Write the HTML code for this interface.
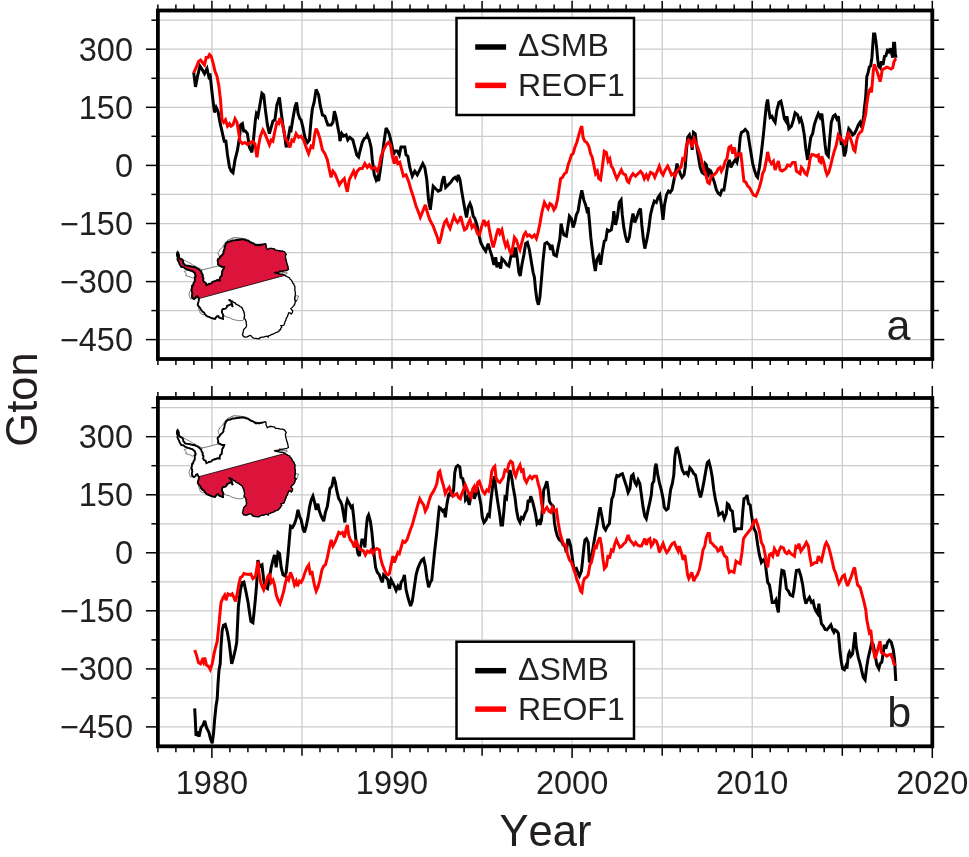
<!DOCTYPE html>
<html lang="en"><head><meta charset="utf-8"><title>SMB REOF</title>
<style>html,body{margin:0;padding:0;background:#fff}svg{display:block}text{font-kerning:none;font-family:"Liberation Sans",Arial,Helvetica,sans-serif;fill:#231f20}</style></head><body>
<svg width="969" height="857" viewBox="0 0 969 857">
<rect width="969" height="857" fill="#fff"/>
<g stroke="#cbcbcb" stroke-width="1.25"><line x1="211.9" y1="10.5" x2="211.9" y2="359.0"/><line x1="302.0" y1="10.5" x2="302.0" y2="359.0"/><line x1="392.0" y1="10.5" x2="392.0" y2="359.0"/><line x1="482.1" y1="10.5" x2="482.1" y2="359.0"/><line x1="572.1" y1="10.5" x2="572.1" y2="359.0"/><line x1="662.2" y1="10.5" x2="662.2" y2="359.0"/><line x1="752.2" y1="10.5" x2="752.2" y2="359.0"/><line x1="842.3" y1="10.5" x2="842.3" y2="359.0"/><line x1="157.9" y1="339.6" x2="932.3" y2="339.6"/><line x1="157.9" y1="310.6" x2="932.3" y2="310.6"/><line x1="157.9" y1="281.6" x2="932.3" y2="281.6"/><line x1="157.9" y1="252.5" x2="932.3" y2="252.5"/><line x1="157.9" y1="223.5" x2="932.3" y2="223.5"/><line x1="157.9" y1="194.4" x2="932.3" y2="194.4"/><line x1="157.9" y1="165.4" x2="932.3" y2="165.4"/><line x1="157.9" y1="136.3" x2="932.3" y2="136.3"/><line x1="157.9" y1="107.3" x2="932.3" y2="107.3"/><line x1="157.9" y1="78.3" x2="932.3" y2="78.3"/><line x1="157.9" y1="49.2" x2="932.3" y2="49.2"/><line x1="157.9" y1="20.2" x2="932.3" y2="20.2"/></g>
<polygon fill="#fff" stroke="#555" stroke-width="0.8" points="202.3,269.8 204.0,269.4 206.1,269.0 208.0,268.5 209.8,268.1 211.7,267.6 213.3,267.1 215.2,266.7 217.2,266.1 219.0,266.0 220.5,266.1 222.3,266.6 224.2,266.9 223.0,269.8 222.3,271.7 221.8,273.9 220.9,276.4 220.2,278.4 219.7,280.5 217.2,280.1 215.6,280.9 213.9,281.4 212.5,282.6 211.4,283.4 208.9,283.9 206.4,285.1 205.6,282.6 204.4,281.7 203.1,280.5 203.5,278.1 203.3,276.3 202.7,274.8 201.9,272.9 201.1,271.4"/>
<polygon fill="#fff" stroke="#555" stroke-width="0.8" points="180.8,258.2 182.2,258.9 183.9,260.0 185.1,260.7 186.6,261.5 188.5,262.4 190.7,263.6 192.1,264.5 193.5,265.4 194.9,265.9 196.5,266.9 197.8,267.7 199.3,268.3 200.8,269.1 202.3,269.8 201.1,271.4 199.0,269.4 197.3,268.4 195.7,267.7 193.6,267.0 191.5,266.5 189.7,266.3 188.2,265.8 186.6,265.6 184.9,265.2 183.3,263.2 183.0,261.5 182.4,259.8"/>
<polygon fill="#fff" stroke="#555" stroke-width="0.8" points="184.1,271.4 185.2,272.7 186.6,273.9 185.7,275.6 187.3,276.1 189.0,276.4 190.7,277.2 192.4,278.1 194.8,276.4 194.9,274.8 194.8,273.1 193.4,272.1 192.4,271.0 190.3,270.4 188.2,269.8 186.3,270.7"/>
<polygon fill="#fff" stroke="#555" stroke-width="0.8" points="191.9,288.0 191.1,289.6 189.9,291.3 189.5,293.1 189.0,294.6 189.6,296.5 190.3,298.8 192.8,298.8 192.7,296.7 192.5,295.1 192.4,293.0 192.4,291.2 191.9,289.5"/>
<polygon fill="#fff" stroke="#555" stroke-width="0.8" points="218.0,252.8 219.0,251.5 219.7,249.9 221.4,248.1 223.0,246.6 223.8,245.0 224.7,243.3 226.4,241.4 228.0,240.0 229.5,239.4 231.1,238.7 232.9,237.9 234.8,238.0 236.9,237.9 238.7,237.9 240.6,238.1 242.7,238.5 244.5,238.7 244.5,239.6 242.8,239.6 241.2,239.7 239.4,239.9 237.9,240.0 236.1,240.1 234.7,240.4 232.9,240.4 231.2,240.8 229.8,241.2 228.0,241.6 226.9,243.2 225.5,244.9 225.2,246.4 224.7,248.4 224.2,249.9 223.6,252.0 223.0,254.0 221.5,255.9 219.7,257.4 219.0,255.9 218.4,254.3"/>
<polygon fill="#fff" stroke="#555" stroke-width="0.8" points="230.0,240.0 231.5,239.1 232.9,238.5 234.1,237.5 236.0,238.0 237.9,238.2 239.9,238.7 241.5,238.9 243.1,239.0 244.8,238.9 246.6,239.1 247.9,239.9 249.3,240.9 250.7,241.6 252.9,242.6 254.8,243.7 257.1,244.2 259.0,244.5 261.2,244.2 263.1,243.7 265.6,243.7 263.1,244.5 261.1,244.8 259.0,245.4 257.1,245.1 254.8,244.5 252.8,243.3 250.7,242.5 248.8,241.5 246.6,240.4 245.1,240.6 243.4,240.5 241.6,240.4 239.9,240.4 238.3,240.8 236.7,241.1 235.0,241.2 233.3,241.1 231.8,241.1 230.0,240.8"/>
<polygon fill="#fff" stroke="#555" stroke-width="0.8" points="223.4,315.6 225.0,316.3 226.3,316.9 228.0,317.3 229.8,317.8 231.4,318.8 232.9,319.3 234.5,319.9 236.2,320.1 237.9,320.6 239.6,320.7 241.3,320.5 242.9,320.6 244.1,318.5 244.1,318.1 244.3,316.3 244.5,314.8 244.0,312.9 243.7,311.1 242.3,309.1 241.2,307.3 240.0,306.2 238.4,305.2 237.1,304.4 235.8,303.4 234.2,302.9 232.9,301.9 231.1,300.9 229.2,299.9 230.5,301.5 231.7,303.2 232.3,304.9 232.9,306.9 231.7,304.0 229.6,304.8 227.1,305.7 226.2,307.0 225.5,308.6 223.0,309.0 221.8,311.9 222.5,313.7"/>
<polygon fill="#fff" stroke="#555" stroke-width="0.8" points="276.4,272.3 278.1,272.3 280.2,272.4 281.8,272.3 283.4,272.6 285.5,272.3 287.1,272.4 286.7,273.9 284.9,274.2 283.0,274.3 281.5,274.0 279.6,273.7 278.0,273.5 276.0,273.3 273.9,272.7"/>
<polygon fill="#fff" stroke="#555" stroke-width="0.8" points="295.8,295.7 298.7,296.1 297.5,299.0 296.3,301.5 295.0,298.6"/>
<polygon fill="#fff" stroke="#555" stroke-width="0.8" points="198.6,308.2 199.0,309.8 199.7,311.3 200.2,313.1 201.7,314.1 203.1,314.8 204.8,314.0 203.4,312.3 201.9,310.6 200.8,309.0 199.4,307.3"/>
<polygon fill="#fff" stroke="none" points="177.7,252.0 178.5,253.6 178.9,254.7 178.9,256.5 179.2,257.6 180.4,259.0 182.4,259.8 183.1,261.3 183.3,263.2 184.5,264.3 184.9,265.2 186.6,265.6 188.2,265.8 190.0,266.2 191.5,266.5 193.3,267.1 194.3,266.8 195.7,267.7 197.0,268.1 199.0,269.4 200.4,270.9 201.1,271.4 201.7,273.4 202.7,274.8 202.6,276.8 203.5,278.1 203.1,280.5 203.9,281.9 205.6,282.6 206.2,284.3 206.4,285.1 208.0,284.4 208.9,283.9 211.4,283.4 212.2,282.1 213.9,281.4 215.9,280.9 217.2,280.1 219.7,280.5 219.6,279.5 220.1,277.2 220.9,276.4 221.8,275.6 221.8,273.9 222.0,272.9 222.3,270.8 223.0,269.8 223.9,268.1 224.2,266.9 221.9,266.9 220.5,266.1 219.3,265.5 218.0,264.4 218.2,262.7 217.6,260.7 217.9,259.2 219.4,258.5 219.7,257.4 220.5,256.5 222.3,254.8 223.0,254.0 223.5,253.2 223.4,251.6 224.2,249.9 224.6,248.5 224.6,246.6 225.5,244.9 226.0,243.4 227.5,242.2 228.0,241.6 229.2,241.6 230.9,241.3 232.9,240.4 234.5,240.4 236.4,239.9 237.9,240.0 239.1,239.7 240.2,239.7 242.1,239.2 242.7,239.4 244.5,239.6 246.6,240.4 248.4,240.7 249.6,241.8 250.7,242.5 252.6,243.2 253.4,243.4 254.8,244.5 256.1,245.3 258.1,244.8 259.0,245.4 260.7,244.8 261.8,244.7 263.1,244.5 264.1,244.0 265.6,243.7 266.1,245.3 266.0,246.6 266.5,247.6 267.3,249.5 268.0,249.3 269.8,248.3 271.4,248.4 273.1,248.7 274.4,248.8 275.5,250.3 277.2,250.3 278.5,250.6 280.4,251.0 281.3,251.1 282.7,251.1 284.7,252.0 285.1,252.8 286.3,254.5 285.5,255.5 285.5,257.4 285.7,259.0 286.3,260.7 286.6,262.2 287.1,264.0 287.6,265.3 288.0,267.3 288.4,269.4 286.3,270.6 285.2,270.6 283.1,271.0 281.3,271.4 279.7,271.2 278.6,272.4 276.4,272.3 273.9,272.7 274.8,272.7 277.1,273.5 278.0,273.5 279.8,274.1 280.9,274.3 283.0,274.3 284.8,275.4 288.0,277.2 289.6,277.9 289.9,278.9 291.3,280.1 291.9,281.1 292.7,282.9 293.8,283.9 294.1,285.3 294.8,286.3 295.0,288.0 294.7,290.0 295.1,290.9 295.4,293.0 295.2,295.0 295.3,295.8 294.6,297.9 294.7,299.4 295.4,301.3 295.8,301.1 295.0,302.5 295.0,303.6 294.1,305.3 293.4,306.1 292.2,307.4 290.9,308.6 291.7,309.8 292.6,310.8 292.5,312.3 291.3,314.0 290.4,313.2 288.8,312.7 288.0,314.8 287.3,317.0 286.3,318.1 286.0,319.9 285.1,321.4 285.0,322.1 284.2,324.3 283.8,325.1 282.7,325.3 280.9,325.5 281.8,327.2 280.8,328.3 280.5,329.7 279.3,330.1 278.8,331.5 277.2,332.2 275.9,332.5 274.2,333.5 273.1,334.2 271.3,334.5 270.2,335.3 268.9,335.5 268.1,337.1 267.3,336.2 265.6,336.3 263.6,337.1 262.3,337.1 260.1,337.7 259.0,338.8 257.4,338.6 255.7,338.4 253.7,338.2 252.4,337.6 251.4,336.0 249.9,335.5 248.5,336.2 246.6,337.1 245.1,337.0 243.7,336.7 242.4,334.7 243.0,333.3 243.3,331.3 243.6,329.9 244.3,328.8 245.3,328.0 246.3,326.8 246.6,324.7 246.1,323.5 246.3,322.4 245.7,320.6 245.2,319.4 244.1,318.1 244.6,316.2 244.5,314.8 244.2,312.7 243.7,311.1 242.9,309.7 242.3,308.0 241.6,307.3 240.1,306.5 239.3,305.9 237.5,304.8 235.7,303.9 235.0,302.7 233.3,302.4 232.6,301.0 231.3,300.8 230.0,299.9 229.2,299.9 230.1,300.6 231.4,302.2 231.7,303.2 232.2,304.9 232.1,306.0 232.9,306.9 232.0,305.2 231.7,304.0 229.6,304.8 228.2,305.5 227.1,305.7 226.8,307.3 225.5,308.6 223.0,309.0 222.2,310.0 221.8,311.9 222.1,312.8 222.9,314.4 223.4,315.6 222.8,316.9 223.0,318.9 222.2,318.7 220.5,318.1 219.0,317.5 218.4,316.0 216.8,316.4 215.9,317.6 215.1,318.9 213.1,318.5 212.2,318.3 210.6,317.7 208.9,316.9 207.3,316.4 206.1,315.6 204.8,314.0 204.0,312.4 202.3,311.6 201.9,310.6 200.8,309.8 200.3,308.0 199.4,307.3 198.5,306.2 197.7,304.8 198.1,302.9 198.6,301.5 198.9,299.8 198.8,298.6 197.3,296.1 196.0,296.7 195.6,297.9 194.0,299.0 192.4,297.8 192.0,296.7 191.9,295.0 192.4,293.3 191.9,291.5 191.6,290.2 191.5,289.1 192.0,288.1 192.0,286.0 192.4,285.0 192.4,286.3 193.1,285.1 193.6,283.0 194.7,281.7 194.8,279.7 194.8,277.7 195.7,276.4 195.5,275.2 194.8,273.1 193.5,272.1 192.4,271.0 190.4,270.7 190.1,270.3 188.2,269.8 186.8,269.2 185.3,268.7 184.5,268.1 183.3,267.1 181.2,266.9 180.6,265.8 179.5,264.0 179.0,262.2 178.0,260.7 177.4,259.0 177.9,257.8 177.3,256.5 176.9,255.0 177.1,252.8"/>
<polygon fill="#dc143c" stroke="#000" stroke-width="0.8" stroke-linejoin="round" points="177.7,252.0 178.5,253.6 178.9,254.7 178.9,256.5 179.2,257.6 180.4,259.0 182.4,259.8 183.1,261.3 183.3,263.2 184.5,264.3 184.9,265.2 186.6,265.6 188.2,265.8 190.0,266.2 191.5,266.5 193.3,267.1 194.3,266.8 195.7,267.7 197.0,268.1 199.0,269.4 200.4,270.9 201.1,271.4 201.7,273.4 202.7,274.8 202.6,276.8 203.5,278.1 203.1,280.5 203.9,281.9 205.6,282.6 206.2,284.3 206.4,285.1 208.0,284.4 208.9,283.9 211.4,283.4 212.2,282.1 213.9,281.4 215.9,280.9 217.2,280.1 219.7,280.5 219.6,279.5 220.1,277.2 220.9,276.4 221.8,275.6 221.8,273.9 222.0,272.9 222.3,270.8 223.0,269.8 223.9,268.1 224.2,266.9 221.9,266.9 220.5,266.1 219.3,265.5 218.0,264.4 218.2,262.7 217.6,260.7 217.9,259.2 219.4,258.5 219.7,257.4 220.5,256.5 222.3,254.8 223.0,254.0 223.5,253.2 223.4,251.6 224.2,249.9 224.6,248.5 224.6,246.6 225.5,244.9 226.0,243.4 227.5,242.2 228.0,241.6 229.2,241.6 230.9,241.3 232.9,240.4 234.5,240.4 236.4,239.9 237.9,240.0 239.1,239.7 240.2,239.7 242.1,239.2 242.7,239.4 244.5,239.6 246.6,240.4 248.4,240.7 249.6,241.8 250.7,242.5 252.6,243.2 253.4,243.4 254.8,244.5 256.1,245.3 258.1,244.8 259.0,245.4 260.7,244.8 261.8,244.7 263.1,244.5 264.1,244.0 265.6,243.7 266.1,245.3 266.0,246.6 266.5,247.6 267.3,249.5 268.0,249.3 269.8,248.3 271.4,248.4 273.1,248.7 274.4,248.8 275.5,250.3 277.2,250.3 278.5,250.6 280.4,251.0 281.3,251.1 282.7,251.1 284.7,252.0 285.1,252.8 286.3,254.5 285.5,255.5 285.5,257.4 285.7,259.0 286.3,260.7 286.6,262.2 287.1,264.0 287.6,265.3 288.0,267.3 288.4,269.4 286.3,270.6 285.2,270.6 283.1,271.0 281.3,271.4 279.7,271.2 278.6,272.4 276.4,272.3 273.9,272.7 274.8,272.7 277.1,273.5 278.0,273.5 279.8,274.1 280.9,274.3 283.0,274.3 284.8,275.4 198.8,298.6 197.3,296.1 196.0,296.7 195.6,297.9 194.0,299.0 192.4,297.8 192.0,296.7 191.9,295.0 192.4,293.3 191.9,291.5 191.6,290.2 191.5,289.1 192.0,288.1 192.0,286.0 192.4,285.0 192.4,286.3 193.1,285.1 193.6,283.0 194.7,281.7 194.8,279.7 194.8,277.7 195.7,276.4 195.5,275.2 194.8,273.1 193.5,272.1 192.4,271.0 190.4,270.7 190.1,270.3 188.2,269.8 186.8,269.2 185.3,268.7 184.5,268.1 183.3,267.1 181.2,266.9 180.6,265.8 179.5,264.0 179.0,262.2 178.0,260.7 177.4,259.0 177.9,257.8 177.3,256.5 176.9,255.0 177.1,252.8"/>
<polyline fill="none" stroke="#000" stroke-width="1.9" stroke-linejoin="miter" stroke-linecap="round" points="229.2,299.9 230.1,300.6 231.4,302.2 231.7,303.2 232.2,304.9 232.1,306.0 232.9,306.9 232.0,305.2 231.7,304.0 229.6,304.8 228.2,305.5 227.1,305.7 226.8,307.3 225.5,308.6 223.0,309.0 222.2,310.0 221.8,311.9 222.1,312.8 222.9,314.4 223.4,315.6 222.8,316.9 223.0,318.9 222.2,318.7 220.5,318.1 219.0,317.5 218.4,316.0 216.8,316.4 215.9,317.6 215.1,318.9 213.1,318.5 212.2,318.3 210.6,317.7 208.9,316.9 207.3,316.4 206.1,315.6 204.8,314.0 204.0,312.4 202.3,311.6 201.9,310.6 200.8,309.8 200.3,308.0 199.4,307.3 198.5,306.2 197.7,304.8 198.1,302.9 198.6,301.5 198.9,299.8 198.8,298.6 197.3,296.1 196.0,296.7 195.6,297.9 194.0,299.0 192.4,297.8 192.0,296.7 191.9,295.0 192.4,293.3 191.9,291.5 191.6,290.2 191.5,289.1 192.0,288.1 192.0,286.0 192.4,285.0 192.4,286.3 193.1,285.1 193.6,283.0 194.7,281.7 194.8,279.7 194.8,277.7 195.7,276.4 195.5,275.2 194.8,273.1 193.5,272.1 192.4,271.0 190.4,270.7 190.1,270.3 188.2,269.8 186.8,269.2 185.3,268.7 184.5,268.1 183.3,267.1 181.2,266.9 180.6,265.8 179.5,264.0 179.0,262.2 178.0,260.7 177.4,259.0 177.9,257.8 177.3,256.5 176.9,255.0 177.1,252.8 177.7,252.0 178.5,253.6 178.9,254.7 178.9,256.5 179.2,257.6 180.4,259.0 182.4,259.8 183.1,261.3 183.3,263.2 184.5,264.3 184.9,265.2 186.6,265.6 188.2,265.8 190.0,266.2 191.5,266.5 193.3,267.1 194.3,266.8 195.7,267.7 197.0,268.1 199.0,269.4 200.4,270.9 201.1,271.4 201.7,273.4 202.7,274.8 202.6,276.8 203.5,278.1 203.1,280.5 203.9,281.9 205.6,282.6 206.2,284.3 206.4,285.1 208.0,284.4 208.9,283.9 211.4,283.4 212.2,282.1 213.9,281.4 215.9,280.9 217.2,280.1 219.7,280.5 219.6,279.5 220.1,277.2 220.9,276.4 221.8,275.6 221.8,273.9 222.0,272.9 222.3,270.8 223.0,269.8 223.9,268.1 224.2,266.9 221.9,266.9 220.5,266.1 219.3,265.5 218.0,264.4 218.2,262.7 217.6,260.7 217.9,259.2 219.4,258.5 219.7,257.4 220.5,256.5 222.3,254.8 223.0,254.0 223.5,253.2 223.4,251.6 224.2,249.9 224.6,248.5 224.6,246.6 225.5,244.9 226.0,243.4 227.5,242.2 228.0,241.6 229.2,241.6 230.9,241.3 232.9,240.4 234.5,240.4 236.4,239.9 237.9,240.0 239.1,239.7 240.2,239.7 242.1,239.2 242.7,239.4 244.5,239.6 246.6,240.4 248.4,240.7 249.6,241.8 250.7,242.5 252.6,243.2 253.4,243.4 254.8,244.5 256.1,245.3 258.1,244.8 259.0,245.4 260.7,244.8 261.8,244.7"/>
<polyline fill="none" stroke="#000" stroke-width="1.3" stroke-linejoin="miter" stroke-linecap="round" points="261.8,244.7 263.1,244.5 264.1,244.0 265.6,243.7 266.1,245.3 266.0,246.6 266.5,247.6 267.3,249.5 268.0,249.3 269.8,248.3 271.4,248.4 273.1,248.7 274.4,248.8 275.5,250.3 277.2,250.3 278.5,250.6 280.4,251.0 281.3,251.1 282.7,251.1 284.7,252.0 285.1,252.8 286.3,254.5 285.5,255.5 285.5,257.4 285.7,259.0 286.3,260.7 286.6,262.2 287.1,264.0 287.6,265.3 288.0,267.3 288.4,269.4 286.3,270.6 285.2,270.6 283.1,271.0 281.3,271.4 279.7,271.2 278.6,272.4 276.4,272.3 273.9,272.7 274.8,272.7 277.1,273.5 278.0,273.5 279.8,274.1 280.9,274.3 283.0,274.3 284.8,275.4 288.0,277.2 289.6,277.9 289.9,278.9 291.3,280.1 291.9,281.1 292.7,282.9 293.8,283.9 294.1,285.3 294.8,286.3 295.0,288.0 294.7,290.0 295.1,290.9 295.4,293.0 295.2,295.0 295.3,295.8 294.6,297.9 294.7,299.4 295.4,301.3 295.8,301.1 295.0,302.5 295.0,303.6 294.1,305.3 293.4,306.1 292.2,307.4 290.9,308.6 291.7,309.8 292.6,310.8 292.5,312.3 291.3,314.0 290.4,313.2 288.8,312.7 288.0,314.8 287.3,317.0 286.3,318.1 286.0,319.9 285.1,321.4 285.0,322.1 284.2,324.3 283.8,325.1 282.7,325.3 280.9,325.5 281.8,327.2 280.8,328.3 280.5,329.7 279.3,330.1 278.8,331.5 277.2,332.2 275.9,332.5 274.2,333.5 273.1,334.2 271.3,334.5 270.2,335.3 268.9,335.5 268.1,337.1 267.3,336.2 265.6,336.3 263.6,337.1 262.3,337.1 260.1,337.7 259.0,338.8 257.4,338.6 255.7,338.4 253.7,338.2 252.4,337.6 251.4,336.0 249.9,335.5 248.5,336.2 246.6,337.1 245.1,337.0 243.7,336.7 242.4,334.7 243.0,333.3 243.3,331.3 243.6,329.9 244.3,328.8 245.3,328.0 246.3,326.8 246.6,324.7 246.1,323.5 246.3,322.4 245.7,320.6 245.2,319.4 244.1,318.1 244.6,316.2 244.5,314.8 244.2,312.7 243.7,311.1 242.9,309.7 242.3,308.0 241.6,307.3 240.1,306.5 239.3,305.9 237.5,304.8 235.7,303.9 235.0,302.7 233.3,302.4 232.6,301.0 231.3,300.8 230.0,299.9"/>
<polyline fill="none" stroke="#000" stroke-width="3.0" stroke-linejoin="miter" stroke-miterlimit="3" points="193.7,72.4 195.5,86.9 197.5,76.2 200.0,66.2 202.5,70.0 204.5,73.7 207.0,68.7 208.7,76.2 210.0,73.7 212.0,92.4 213.7,106.2 214.5,112.4 216.2,107.4 218.0,111.2 220.0,122.4 222.5,133.6 224.5,142.4 225.7,139.9 227.5,154.9 229.5,167.4 231.2,171.1 233.0,172.8 235.0,159.9 237.5,149.9 239.5,137.4 240.7,124.9 242.4,123.6 243.7,131.1 245.4,131.1 247.4,133.6 249.4,147.4 251.9,152.4 253.7,137.4 255.4,119.9 256.4,113.7 257.9,116.2 259.9,104.9 261.9,93.2 263.7,94.9 265.4,109.9 267.4,124.9 269.4,133.6 271.2,127.4 272.9,121.1 274.9,119.9 276.9,104.9 279.4,97.4 281.2,112.4 282.9,124.9 284.9,137.4 286.2,147.4 287.9,139.9 289.9,128.6 291.1,129.9 292.9,118.7 294.9,107.4 296.6,102.4 298.1,113.7 299.9,118.7 301.1,119.9 302.9,127.4 304.9,137.4 307.4,142.4 309.4,139.9 311.1,119.9 312.4,108.7 314.1,102.4 316.1,89.4 318.6,94.9 320.4,106.2 322.4,114.9 324.9,116.2 326.1,119.9 327.9,124.9 331.1,124.9 332.9,122.4 334.4,111.2 336.1,117.4 337.9,127.4 339.4,134.9 339.9,141.1 341.8,133.6 343.6,136.1 346.1,134.9 347.8,139.9 349.8,137.4 352.8,139.9 354.8,147.4 356.8,154.9 358.6,156.9 360.3,149.9 362.3,142.4 364.3,138.6 366.1,137.4 367.3,134.9 369.3,139.9 371.1,147.4 372.3,159.9 374.3,174.8 376.1,179.8 377.3,177.3 378.6,181.1 380.3,169.9 382.3,154.9 384.3,139.9 386.1,128.1 388.6,132.4 389.8,136.1 391.8,144.9 393.5,154.9 394.8,151.1 397.3,151.1 399.3,154.9 401.0,146.9 404.8,146.9 406.0,154.9 407.8,156.1 409.8,167.4 412.3,176.1 414.8,171.1 417.3,174.8 419.8,169.9 422.8,163.6 424.8,167.4 426.8,179.8 428.5,199.8 430.3,209.8 433.2,186.2 435.7,188.7 438.2,191.2 440.7,189.9 442.5,179.9 444.0,176.2 445.7,187.4 448.2,184.9 450.7,182.4 453.2,178.7 455.0,177.4 457.0,179.9 458.2,174.9 460.0,179.9 461.5,189.9 463.2,199.9 465.0,209.9 466.5,217.4 468.2,207.4 470.0,203.6 471.5,207.4 473.2,216.1 474.9,218.6 476.9,224.9 478.9,234.9 480.7,242.4 483.2,247.4 485.7,251.1 488.2,243.6 489.9,249.9 491.9,256.1 493.9,264.8 495.7,257.3 496.9,267.3 498.9,262.3 500.7,268.6 501.9,258.6 504.4,261.1 506.9,264.8 508.9,266.1 510.7,257.3 512.4,251.1 513.9,257.3 515.7,247.4 517.4,259.8 518.9,272.3 520.2,276.1 521.9,264.8 523.9,254.8 525.6,243.6 527.4,242.4 529.4,249.9 531.4,262.3 533.1,272.3 534.4,277.3 535.6,289.8 536.9,299.8 538.4,304.8 539.9,297.3 541.4,279.8 543.1,259.8 544.9,243.6 546.9,242.4 549.4,244.9 550.6,249.9 551.9,244.9 553.9,254.8 556.4,256.1 558.1,247.4 559.9,238.6 561.1,223.6 562.4,229.9 563.9,234.9 566.4,236.1 568.1,224.9 569.4,216.1 571.4,218.6 573.1,227.4 574.8,222.4 576.3,214.9 578.1,211.1 579.8,199.9 581.8,190.4 583.8,199.9 585.6,204.9 586.8,209.9 588.1,207.4 589.3,219.9 590.8,237.4 592.3,249.9 593.8,262.3 595.3,271.1 596.8,259.8 598.8,256.1 600.6,264.8 602.3,252.3 604.3,241.1 605.8,239.9 607.3,229.9 609.3,231.1 611.3,229.9 613.1,219.9 613.8,211.1 615.6,224.9 617.3,217.4 619.3,202.4 621.1,199.9 622.3,214.9 623.8,227.4 625.5,236.1 627.3,242.4 629.3,237.4 631.3,222.4 633.0,213.6 634.8,222.4 636.8,217.4 638.8,211.1 640.5,208.6 641.8,224.9 643.3,238.6 644.8,248.6 646.8,239.9 648.8,228.6 650.5,214.9 652.3,207.4 654.3,201.1 656.3,202.4 658.0,197.4 659.8,194.9 661.3,204.9 663.0,219.9 664.5,204.9 666.5,194.9 668.5,191.1 670.2,192.4 672.0,189.9 674.0,179.9 676.0,169.9 677.0,163.6 678.5,168.6 680.2,173.6 682.0,177.4 684.0,174.9 685.2,167.4 686.5,149.9 687.7,137.4 689.5,134.9 691.0,139.9 692.2,149.9 693.5,132.4 695.2,133.7 696.5,144.9 698.5,157.4 700.2,167.4 702.0,172.4 703.5,173.6 705.2,163.6 706.4,164.9 707.7,177.4 709.4,169.9 710.9,171.1 712.7,177.4 714.4,182.4 716.4,189.9 718.4,193.6 720.2,194.9 721.9,189.9 723.9,189.9 725.9,177.4 727.7,164.9 729.4,159.9 730.9,167.4 732.7,163.6 735.2,159.9 736.9,162.4 738.9,152.4 740.2,137.4 741.4,132.4 743.4,131.2 745.2,129.4 747.7,132.4 748.9,139.9 750.9,152.4 752.7,163.6 754.4,169.9 756.4,176.1 757.6,177.4 759.4,167.4 761.4,152.4 763.4,134.9 765.1,117.4 766.4,105.0 767.6,99.5 768.9,110.0 770.1,117.4 771.9,116.2 773.4,119.9 775.1,122.4 776.9,110.0 778.9,102.5 780.9,101.2 782.6,108.7 784.4,118.7 785.9,121.2 786.9,116.2 788.9,128.7 791.4,126.2 793.4,119.9 795.1,112.9 797.6,114.9 799.4,121.2 800.9,118.7 802.6,124.9 804.3,134.9 805.8,148.7 807.6,159.9 809.3,147.4 810.8,137.4 812.6,133.7 814.3,124.9 816.3,118.7 818.3,113.7 820.1,117.4 821.8,113.7 823.3,127.4 825.1,144.9 826.3,153.7 828.3,156.2 830.1,134.9 831.3,122.4 833.3,116.2 835.1,114.9 836.8,118.7 838.3,116.2 840.1,132.4 841.3,144.9 842.6,142.4 844.3,156.2 845.8,151.2 847.6,134.9 848.8,128.7 850.8,131.2 852.6,134.9 854.3,133.7 856.3,129.9 858.3,124.9 860.0,122.4 861.8,127.4 863.8,114.9 864.2,109.8 865.7,96.8 866.4,85.2 866.8,76.5 867.9,73.6 869.3,67.1 870.7,65.7 871.9,57.7 872.9,43.3 873.6,33.9 874.8,33.9 875.8,40.4 876.8,49.1 877.7,59.2 878.7,66.4 880.1,67.9 881.6,61.3 883.0,65.0 884.5,56.3 885.9,55.6 887.4,50.5 888.8,51.9 890.3,48.3 891.7,53.4 892.7,57.7 893.6,43.3 894.6,43.3 895.3,53.4 896.1,57.7"/>
<polyline fill="none" stroke="#ff0000" stroke-width="3.0" stroke-linejoin="miter" stroke-miterlimit="3" points="193.7,72.9 196.2,67.5 198.7,61.2 200.5,60.0 202.5,62.5 204.5,65.0 206.2,57.5 208.0,57.5 209.5,54.5 211.2,56.2 213.0,62.5 215.0,71.2 217.0,76.2 218.7,84.9 220.5,99.9 222.0,119.9 223.7,122.4 225.5,119.9 227.5,126.1 229.5,123.6 231.2,126.1 233.0,124.9 235.0,118.7 237.0,122.4 238.7,132.4 240.0,141.1 242.4,143.6 244.9,142.4 247.4,144.4 249.9,142.9 252.4,141.1 254.9,143.6 256.9,157.4 258.7,144.9 260.4,136.1 262.9,129.9 264.9,133.6 267.4,139.9 269.4,144.9 271.2,139.9 272.9,141.1 274.9,131.1 276.9,122.4 278.7,123.6 279.9,118.2 281.9,122.4 283.7,129.9 285.4,138.6 287.9,142.4 289.9,147.4 291.9,139.9 293.6,141.1 296.1,133.6 298.6,137.4 301.1,136.1 303.6,139.9 306.1,147.4 308.6,153.6 311.1,146.1 312.9,147.4 314.9,133.6 316.1,128.6 317.9,132.4 319.9,138.6 322.4,149.9 324.9,153.6 327.4,159.9 329.4,169.9 331.1,177.3 332.9,171.1 334.9,173.6 337.4,179.8 339.4,184.8 341.8,181.1 344.3,178.6 346.1,187.3 347.3,191.8 349.3,179.8 351.1,176.1 353.6,171.1 355.3,176.1 357.3,171.1 359.8,168.6 362.3,168.6 364.8,163.6 367.3,167.4 369.3,164.9 371.8,168.6 374.8,167.4 377.3,171.1 379.3,166.1 381.1,156.1 383.6,149.9 386.1,144.9 388.6,142.4 390.5,144.9 392.3,156.1 394.3,163.6 396.0,156.1 397.8,163.6 399.8,162.4 401.8,169.9 403.5,176.1 406.0,174.8 408.5,181.1 411.0,189.8 413.5,197.3 416.0,206.1 418.5,212.3 420.3,217.3 422.8,211.1 425.3,204.8 427.3,212.3 429.8,219.8 433.2,226.1 435.0,231.1 437.0,236.1 439.0,243.6 440.7,238.6 442.5,229.9 444.5,222.4 446.5,219.9 448.2,224.9 450.0,228.6 452.0,222.4 454.0,216.1 455.7,219.9 457.5,222.4 459.5,219.9 460.7,216.1 462.5,223.6 464.5,229.9 466.5,228.6 468.2,223.6 470.0,219.9 472.0,227.4 473.9,224.9 475.7,228.6 477.4,233.6 479.4,234.9 481.4,227.4 483.9,219.9 485.7,224.9 488.2,222.4 489.4,229.9 491.4,239.9 493.2,247.4 494.9,241.1 496.4,234.9 498.2,228.6 499.9,233.6 501.9,229.9 503.9,239.9 505.7,246.1 507.4,242.4 509.4,249.9 511.4,254.8 513.2,244.9 514.4,237.4 516.4,239.9 518.2,246.1 519.9,249.9 521.9,242.4 523.9,234.9 525.6,232.4 527.4,236.1 529.4,234.9 531.9,237.4 534.4,234.9 536.4,238.6 538.1,232.4 539.9,223.6 541.9,212.4 544.4,202.4 546.4,206.1 548.1,208.6 549.9,203.6 551.9,204.9 553.9,209.9 555.6,207.4 557.4,199.9 558.9,189.9 560.6,178.7 562.4,177.4 564.4,173.7 566.4,172.4 568.1,164.9 569.9,159.9 571.4,154.9 573.1,153.7 574.8,147.5 576.8,142.5 578.8,135.0 580.6,128.7 581.8,126.2 583.1,137.5 584.8,141.2 586.8,142.5 588.8,146.2 590.6,153.7 592.3,157.4 593.8,164.9 595.6,173.7 597.3,171.2 598.8,178.7 600.6,179.9 602.3,167.4 604.3,151.2 606.3,152.4 608.1,161.2 609.8,158.7 611.3,166.2 613.1,168.7 614.8,173.7 616.8,178.7 618.8,174.9 621.3,169.9 623.0,173.7 625.5,174.9 627.3,181.2 628.8,182.4 630.5,177.4 633.0,173.7 635.5,176.2 638.0,173.7 640.5,171.2 642.5,173.7 644.3,178.7 646.3,174.9 648.0,178.7 650.5,172.4 653.0,173.7 654.8,177.4 656.8,172.4 659.3,166.2 661.3,172.4 663.0,174.9 665.2,169.9 667.7,166.1 669.5,169.9 671.5,174.9 673.5,173.6 675.2,176.1 677.0,171.1 679.0,168.6 681.0,167.4 682.7,158.7 684.5,159.9 686.5,144.9 688.5,139.9 690.2,141.2 692.0,147.4 694.0,138.7 696.5,143.7 698.5,149.9 700.2,154.9 702.0,162.4 704.0,169.9 705.9,174.9 707.7,182.4 709.4,183.6 711.4,176.1 713.9,174.9 716.4,172.4 718.4,168.6 720.2,167.4 721.4,171.1 723.4,167.4 725.2,161.1 726.9,158.7 728.9,147.4 730.9,146.2 732.7,153.7 734.4,147.4 735.9,156.2 737.7,154.9 739.4,153.7 740.9,153.7 742.7,169.9 743.9,181.1 745.9,182.4 747.7,186.1 749.4,187.4 751.4,191.1 753.4,194.9 755.9,196.1 757.6,192.4 759.4,187.4 761.4,179.9 762.6,173.6 764.4,169.9 766.4,159.9 767.6,151.9 769.4,159.9 771.4,163.6 773.4,161.1 775.1,169.9 776.9,164.9 778.4,161.1 780.1,169.9 781.9,171.1 783.9,169.9 785.9,168.6 787.6,164.9 790.1,166.1 792.6,162.4 795.1,162.4 796.4,171.1 798.4,172.4 800.1,173.6 801.4,167.4 803.4,169.9 805.1,173.6 806.8,174.9 808.8,167.4 810.1,158.7 811.8,154.4 813.8,154.9 816.3,156.2 818.3,154.9 819.3,161.1 820.8,162.4 821.8,156.2 823.8,162.4 825.8,171.1 827.1,174.9 828.8,172.4 830.8,164.9 832.6,157.4 834.3,151.2 836.3,144.9 838.3,134.9 840.1,137.4 841.8,139.9 843.8,141.2 845.1,144.9 846.8,137.4 848.3,133.7 850.1,137.4 851.8,142.4 853.8,149.9 855.0,151.2 856.8,139.9 858.3,134.9 860.0,132.4 861.8,131.2 863.8,122.4 865.7,114.1 866.8,104.0 867.9,96.8 869.0,91.0 870.0,89.5 871.5,92.4 872.5,80.9 873.3,70.7 874.4,64.2 875.8,67.9 877.3,72.2 878.7,76.5 880.1,81.6 881.2,76.5 882.3,69.3 884.5,68.6 886.7,67.1 888.8,67.9 891.0,69.0 892.7,67.9 893.9,62.1 895.3,59.2 896.3,58.5"/>
<rect x="456.5" y="18.0" width="177.5" height="97" fill="#fff" stroke="#000" stroke-width="2.5"/>
<line x1="475.2" y1="47.0" x2="506.1" y2="47.0" stroke="#000" stroke-width="5.5"/>
<line x1="475.2" y1="85.4" x2="506.1" y2="85.4" stroke="#ff0000" stroke-width="5.5"/>
<text x="518.0" y="56.4" font-size="32">ΔSMB</text>
<text x="518.0" y="95.8" font-size="32">REOF1</text>
<text x="886.6" y="340" font-size="43">a</text>
<g stroke="#000" stroke-width="1.5"><line x1="157.9" y1="10.5" x2="157.9" y2="4.5"/><line x1="157.9" y1="359.0" x2="157.9" y2="365.0"/><line x1="175.9" y1="10.5" x2="175.9" y2="4.5"/><line x1="175.9" y1="359.0" x2="175.9" y2="365.0"/><line x1="193.9" y1="10.5" x2="193.9" y2="4.5"/><line x1="193.9" y1="359.0" x2="193.9" y2="365.0"/><line x1="211.9" y1="10.5" x2="211.9" y2="0.8"/><line x1="211.9" y1="359.0" x2="211.9" y2="368.7"/><line x1="229.9" y1="10.5" x2="229.9" y2="4.5"/><line x1="229.9" y1="359.0" x2="229.9" y2="365.0"/><line x1="247.9" y1="10.5" x2="247.9" y2="4.5"/><line x1="247.9" y1="359.0" x2="247.9" y2="365.0"/><line x1="266.0" y1="10.5" x2="266.0" y2="4.5"/><line x1="266.0" y1="359.0" x2="266.0" y2="365.0"/><line x1="284.0" y1="10.5" x2="284.0" y2="4.5"/><line x1="284.0" y1="359.0" x2="284.0" y2="365.0"/><line x1="302.0" y1="10.5" x2="302.0" y2="1.0"/><line x1="302.0" y1="359.0" x2="302.0" y2="368.5"/><line x1="320.0" y1="10.5" x2="320.0" y2="4.5"/><line x1="320.0" y1="359.0" x2="320.0" y2="365.0"/><line x1="338.0" y1="10.5" x2="338.0" y2="4.5"/><line x1="338.0" y1="359.0" x2="338.0" y2="365.0"/><line x1="356.0" y1="10.5" x2="356.0" y2="4.5"/><line x1="356.0" y1="359.0" x2="356.0" y2="365.0"/><line x1="374.0" y1="10.5" x2="374.0" y2="4.5"/><line x1="374.0" y1="359.0" x2="374.0" y2="365.0"/><line x1="392.0" y1="10.5" x2="392.0" y2="0.8"/><line x1="392.0" y1="359.0" x2="392.0" y2="368.7"/><line x1="410.0" y1="10.5" x2="410.0" y2="4.5"/><line x1="410.0" y1="359.0" x2="410.0" y2="365.0"/><line x1="428.0" y1="10.5" x2="428.0" y2="4.5"/><line x1="428.0" y1="359.0" x2="428.0" y2="365.0"/><line x1="446.0" y1="10.5" x2="446.0" y2="4.5"/><line x1="446.0" y1="359.0" x2="446.0" y2="365.0"/><line x1="464.1" y1="10.5" x2="464.1" y2="4.5"/><line x1="464.1" y1="359.0" x2="464.1" y2="365.0"/><line x1="482.1" y1="10.5" x2="482.1" y2="1.0"/><line x1="482.1" y1="359.0" x2="482.1" y2="368.5"/><line x1="500.1" y1="10.5" x2="500.1" y2="4.5"/><line x1="500.1" y1="359.0" x2="500.1" y2="365.0"/><line x1="518.1" y1="10.5" x2="518.1" y2="4.5"/><line x1="518.1" y1="359.0" x2="518.1" y2="365.0"/><line x1="536.1" y1="10.5" x2="536.1" y2="4.5"/><line x1="536.1" y1="359.0" x2="536.1" y2="365.0"/><line x1="554.1" y1="10.5" x2="554.1" y2="4.5"/><line x1="554.1" y1="359.0" x2="554.1" y2="365.0"/><line x1="572.1" y1="10.5" x2="572.1" y2="0.8"/><line x1="572.1" y1="359.0" x2="572.1" y2="368.7"/><line x1="590.1" y1="10.5" x2="590.1" y2="4.5"/><line x1="590.1" y1="359.0" x2="590.1" y2="365.0"/><line x1="608.1" y1="10.5" x2="608.1" y2="4.5"/><line x1="608.1" y1="359.0" x2="608.1" y2="365.0"/><line x1="626.1" y1="10.5" x2="626.1" y2="4.5"/><line x1="626.1" y1="359.0" x2="626.1" y2="365.0"/><line x1="644.2" y1="10.5" x2="644.2" y2="4.5"/><line x1="644.2" y1="359.0" x2="644.2" y2="365.0"/><line x1="662.2" y1="10.5" x2="662.2" y2="1.0"/><line x1="662.2" y1="359.0" x2="662.2" y2="368.5"/><line x1="680.2" y1="10.5" x2="680.2" y2="4.5"/><line x1="680.2" y1="359.0" x2="680.2" y2="365.0"/><line x1="698.2" y1="10.5" x2="698.2" y2="4.5"/><line x1="698.2" y1="359.0" x2="698.2" y2="365.0"/><line x1="716.2" y1="10.5" x2="716.2" y2="4.5"/><line x1="716.2" y1="359.0" x2="716.2" y2="365.0"/><line x1="734.2" y1="10.5" x2="734.2" y2="4.5"/><line x1="734.2" y1="359.0" x2="734.2" y2="365.0"/><line x1="752.2" y1="10.5" x2="752.2" y2="0.8"/><line x1="752.2" y1="359.0" x2="752.2" y2="368.7"/><line x1="770.2" y1="10.5" x2="770.2" y2="4.5"/><line x1="770.2" y1="359.0" x2="770.2" y2="365.0"/><line x1="788.2" y1="10.5" x2="788.2" y2="4.5"/><line x1="788.2" y1="359.0" x2="788.2" y2="365.0"/><line x1="806.2" y1="10.5" x2="806.2" y2="4.5"/><line x1="806.2" y1="359.0" x2="806.2" y2="365.0"/><line x1="824.2" y1="10.5" x2="824.2" y2="4.5"/><line x1="824.2" y1="359.0" x2="824.2" y2="365.0"/><line x1="842.3" y1="10.5" x2="842.3" y2="1.0"/><line x1="842.3" y1="359.0" x2="842.3" y2="368.5"/><line x1="860.3" y1="10.5" x2="860.3" y2="4.5"/><line x1="860.3" y1="359.0" x2="860.3" y2="365.0"/><line x1="878.3" y1="10.5" x2="878.3" y2="4.5"/><line x1="878.3" y1="359.0" x2="878.3" y2="365.0"/><line x1="896.3" y1="10.5" x2="896.3" y2="4.5"/><line x1="896.3" y1="359.0" x2="896.3" y2="365.0"/><line x1="914.3" y1="10.5" x2="914.3" y2="4.5"/><line x1="914.3" y1="359.0" x2="914.3" y2="365.0"/><line x1="932.3" y1="10.5" x2="932.3" y2="0.8"/><line x1="932.3" y1="359.0" x2="932.3" y2="368.7"/><line x1="157.9" y1="339.6" x2="145.9" y2="339.6"/><line x1="932.3" y1="339.6" x2="944.3" y2="339.6"/><line x1="157.9" y1="310.6" x2="151.4" y2="310.6"/><line x1="932.3" y1="310.6" x2="938.8" y2="310.6"/><line x1="157.9" y1="281.6" x2="145.9" y2="281.6"/><line x1="932.3" y1="281.6" x2="944.3" y2="281.6"/><line x1="157.9" y1="252.5" x2="151.4" y2="252.5"/><line x1="932.3" y1="252.5" x2="938.8" y2="252.5"/><line x1="157.9" y1="223.5" x2="145.9" y2="223.5"/><line x1="932.3" y1="223.5" x2="944.3" y2="223.5"/><line x1="157.9" y1="194.4" x2="151.4" y2="194.4"/><line x1="932.3" y1="194.4" x2="938.8" y2="194.4"/><line x1="157.9" y1="165.4" x2="145.9" y2="165.4"/><line x1="932.3" y1="165.4" x2="944.3" y2="165.4"/><line x1="157.9" y1="136.3" x2="151.4" y2="136.3"/><line x1="932.3" y1="136.3" x2="938.8" y2="136.3"/><line x1="157.9" y1="107.3" x2="145.9" y2="107.3"/><line x1="932.3" y1="107.3" x2="944.3" y2="107.3"/><line x1="157.9" y1="78.3" x2="151.4" y2="78.3"/><line x1="932.3" y1="78.3" x2="938.8" y2="78.3"/><line x1="157.9" y1="49.2" x2="145.9" y2="49.2"/><line x1="932.3" y1="49.2" x2="944.3" y2="49.2"/><line x1="157.9" y1="20.2" x2="151.4" y2="20.2"/><line x1="932.3" y1="20.2" x2="938.8" y2="20.2"/></g>
<rect x="157.9" y="10.5" width="774.4" height="348.5" fill="none" stroke="#000" stroke-width="3.8"/>
<text x="133.0" y="350.9" text-anchor="end" font-size="32.5">−450</text><text x="133.0" y="292.9" text-anchor="end" font-size="32.5">−300</text><text x="133.0" y="234.8" text-anchor="end" font-size="32.5">−150</text><text x="133.0" y="176.7" text-anchor="end" font-size="32.5">0</text><text x="133.0" y="118.6" text-anchor="end" font-size="32.5">150</text><text x="133.0" y="60.5" text-anchor="end" font-size="32.5">300</text>
<g stroke="#cbcbcb" stroke-width="1.25"><line x1="211.9" y1="398.0" x2="211.9" y2="746.3"/><line x1="302.0" y1="398.0" x2="302.0" y2="746.3"/><line x1="392.0" y1="398.0" x2="392.0" y2="746.3"/><line x1="482.1" y1="398.0" x2="482.1" y2="746.3"/><line x1="572.1" y1="398.0" x2="572.1" y2="746.3"/><line x1="662.2" y1="398.0" x2="662.2" y2="746.3"/><line x1="752.2" y1="398.0" x2="752.2" y2="746.3"/><line x1="842.3" y1="398.0" x2="842.3" y2="746.3"/><line x1="157.9" y1="726.9" x2="932.3" y2="726.9"/><line x1="157.9" y1="697.9" x2="932.3" y2="697.9"/><line x1="157.9" y1="668.9" x2="932.3" y2="668.9"/><line x1="157.9" y1="639.9" x2="932.3" y2="639.9"/><line x1="157.9" y1="610.8" x2="932.3" y2="610.8"/><line x1="157.9" y1="581.8" x2="932.3" y2="581.8"/><line x1="157.9" y1="552.8" x2="932.3" y2="552.8"/><line x1="157.9" y1="523.8" x2="932.3" y2="523.8"/><line x1="157.9" y1="494.8" x2="932.3" y2="494.8"/><line x1="157.9" y1="465.7" x2="932.3" y2="465.7"/><line x1="157.9" y1="436.7" x2="932.3" y2="436.7"/><line x1="157.9" y1="407.7" x2="932.3" y2="407.7"/></g>
<polygon fill="#fff" stroke="#555" stroke-width="0.8" points="202.3,447.9 204.0,447.5 206.1,447.1 208.0,446.6 209.8,446.2 211.7,445.7 213.3,445.2 215.2,444.8 217.2,444.2 219.0,444.1 220.5,444.2 222.3,444.7 224.2,445.0 223.0,447.9 222.3,449.8 221.8,452.0 220.9,454.5 220.2,456.5 219.7,458.6 217.2,458.2 215.6,459.0 213.9,459.5 212.5,460.7 211.4,461.5 208.9,462.0 206.4,463.2 205.6,460.7 204.4,459.8 203.1,458.6 203.5,456.2 203.3,454.4 202.7,452.9 201.9,451.0 201.1,449.5"/>
<polygon fill="#fff" stroke="#555" stroke-width="0.8" points="180.8,436.3 182.2,437.0 183.9,438.1 185.1,438.8 186.6,439.6 188.5,440.5 190.7,441.7 192.1,442.6 193.5,443.5 194.9,444.0 196.5,445.0 197.8,445.8 199.3,446.4 200.8,447.2 202.3,447.9 201.1,449.5 199.0,447.5 197.3,446.5 195.7,445.8 193.6,445.1 191.5,444.6 189.7,444.4 188.2,443.9 186.6,443.7 184.9,443.3 183.3,441.3 183.0,439.6 182.4,437.9"/>
<polygon fill="#fff" stroke="#555" stroke-width="0.8" points="184.1,449.5 185.2,450.8 186.6,452.0 185.7,453.7 187.3,454.2 189.0,454.5 190.7,455.3 192.4,456.2 194.8,454.5 194.9,452.9 194.8,451.2 193.4,450.2 192.4,449.1 190.3,448.5 188.2,447.9 186.3,448.8"/>
<polygon fill="#fff" stroke="#555" stroke-width="0.8" points="191.9,466.1 191.1,467.7 189.9,469.4 189.5,471.2 189.0,472.7 189.6,474.6 190.3,476.9 192.8,476.9 192.7,474.8 192.5,473.2 192.4,471.1 192.4,469.3 191.9,467.6"/>
<polygon fill="#fff" stroke="#555" stroke-width="0.8" points="218.0,430.9 219.0,429.6 219.7,428.0 221.4,426.2 223.0,424.7 223.8,423.1 224.7,421.4 226.4,419.5 228.0,418.1 229.5,417.5 231.1,416.8 232.9,416.0 234.8,416.1 236.9,416.0 238.7,416.0 240.6,416.2 242.7,416.6 244.5,416.8 244.5,417.7 242.8,417.7 241.2,417.8 239.4,418.0 237.9,418.1 236.1,418.2 234.7,418.5 232.9,418.5 231.2,418.9 229.8,419.3 228.0,419.7 226.9,421.3 225.5,423.0 225.2,424.5 224.7,426.5 224.2,428.0 223.6,430.1 223.0,432.1 221.5,434.0 219.7,435.5 219.0,434.0 218.4,432.4"/>
<polygon fill="#fff" stroke="#555" stroke-width="0.8" points="230.0,418.1 231.5,417.2 232.9,416.6 234.1,415.6 236.0,416.1 237.9,416.3 239.9,416.8 241.5,417.0 243.1,417.1 244.8,417.0 246.6,417.2 247.9,418.0 249.3,419.0 250.7,419.7 252.9,420.7 254.8,421.8 257.1,422.3 259.0,422.6 261.2,422.3 263.1,421.8 265.6,421.8 263.1,422.6 261.1,422.9 259.0,423.5 257.1,423.2 254.8,422.6 252.8,421.4 250.7,420.6 248.8,419.6 246.6,418.5 245.1,418.7 243.4,418.6 241.6,418.5 239.9,418.5 238.3,418.9 236.7,419.2 235.0,419.3 233.3,419.2 231.8,419.2 230.0,418.9"/>
<polygon fill="#fff" stroke="#555" stroke-width="0.8" points="223.4,493.7 225.0,494.4 226.3,495.0 228.0,495.4 229.8,495.9 231.4,496.9 232.9,497.4 234.5,498.0 236.2,498.2 237.9,498.7 239.6,498.8 241.3,498.6 242.9,498.7 244.1,496.6 244.1,496.2 244.3,494.4 244.5,492.9 244.0,491.0 243.7,489.2 242.3,487.2 241.2,485.4 240.0,484.3 238.4,483.3 237.1,482.5 235.8,481.5 234.2,481.0 232.9,480.0 231.1,479.0 229.2,478.0 230.5,479.6 231.7,481.3 232.3,483.0 232.9,485.0 231.7,482.1 229.6,482.9 227.1,483.8 226.2,485.1 225.5,486.7 223.0,487.1 221.8,490.0 222.5,491.8"/>
<polygon fill="#fff" stroke="#555" stroke-width="0.8" points="276.4,450.4 278.1,450.4 280.2,450.5 281.8,450.4 283.4,450.7 285.5,450.4 287.1,450.5 286.7,452.0 284.9,452.3 283.0,452.4 281.5,452.1 279.6,451.8 278.0,451.6 276.0,451.4 273.9,450.8"/>
<polygon fill="#fff" stroke="#555" stroke-width="0.8" points="295.8,473.8 298.7,474.2 297.5,477.1 296.3,479.6 295.0,476.7"/>
<polygon fill="#fff" stroke="#555" stroke-width="0.8" points="198.6,486.3 199.0,487.9 199.7,489.4 200.2,491.2 201.7,492.2 203.1,492.9 204.8,492.1 203.4,490.4 201.9,488.7 200.8,487.1 199.4,485.4"/>
<polygon fill="#fff" stroke="none" points="177.7,430.1 178.5,431.7 178.9,432.8 178.9,434.6 179.2,435.7 180.4,437.1 182.4,437.9 183.1,439.4 183.3,441.3 184.5,442.4 184.9,443.3 186.6,443.7 188.2,443.9 190.0,444.3 191.5,444.6 193.3,445.2 194.3,444.9 195.7,445.8 197.0,446.2 199.0,447.5 200.4,449.0 201.1,449.5 201.7,451.5 202.7,452.9 202.6,454.9 203.5,456.2 203.1,458.6 203.9,460.0 205.6,460.7 206.2,462.4 206.4,463.2 208.0,462.5 208.9,462.0 211.4,461.5 212.2,460.2 213.9,459.5 215.9,459.0 217.2,458.2 219.7,458.6 219.6,457.6 220.1,455.3 220.9,454.5 221.8,453.7 221.8,452.0 222.0,451.0 222.3,448.9 223.0,447.9 223.9,446.2 224.2,445.0 221.9,445.0 220.5,444.2 219.3,443.6 218.0,442.5 218.2,440.8 217.6,438.8 217.9,437.3 219.4,436.6 219.7,435.5 220.5,434.6 222.3,432.9 223.0,432.1 223.5,431.3 223.4,429.7 224.2,428.0 224.6,426.6 224.6,424.7 225.5,423.0 226.0,421.5 227.5,420.3 228.0,419.7 229.2,419.7 230.9,419.4 232.9,418.5 234.5,418.5 236.4,418.0 237.9,418.1 239.1,417.8 240.2,417.8 242.1,417.3 242.7,417.5 244.5,417.7 246.6,418.5 248.4,418.8 249.6,419.9 250.7,420.6 252.6,421.3 253.4,421.5 254.8,422.6 256.1,423.4 258.1,422.9 259.0,423.5 260.7,422.9 261.8,422.8 263.1,422.6 264.1,422.1 265.6,421.8 266.1,423.4 266.0,424.7 266.5,425.7 267.3,427.6 268.0,427.4 269.8,426.4 271.4,426.5 273.1,426.8 274.4,426.9 275.5,428.4 277.2,428.4 278.5,428.7 280.4,429.1 281.3,429.2 282.7,429.2 284.7,430.1 285.1,430.9 286.3,432.6 285.5,433.6 285.5,435.5 285.7,437.1 286.3,438.8 286.6,440.3 287.1,442.1 287.6,443.4 288.0,445.4 288.4,447.5 286.3,448.7 285.2,448.7 283.1,449.1 281.3,449.5 279.7,449.3 278.6,450.5 276.4,450.4 273.9,450.8 274.8,450.8 277.1,451.6 278.0,451.6 279.8,452.2 280.9,452.4 283.0,452.4 284.8,453.5 288.0,455.3 289.6,456.0 289.9,457.0 291.3,458.2 291.9,459.2 292.7,461.0 293.8,462.0 294.1,463.4 294.8,464.4 295.0,466.1 294.7,468.1 295.1,469.0 295.4,471.1 295.2,473.1 295.3,473.9 294.6,476.0 294.7,477.5 295.4,479.4 295.8,479.2 295.0,480.6 295.0,481.7 294.1,483.4 293.4,484.2 292.2,485.5 290.9,486.7 291.7,487.9 292.6,488.9 292.5,490.4 291.3,492.1 290.4,491.3 288.8,490.8 288.0,492.9 287.3,495.1 286.3,496.2 286.0,498.0 285.1,499.5 285.0,500.2 284.2,502.4 283.8,503.2 282.7,503.4 280.9,503.6 281.8,505.3 280.8,506.4 280.5,507.8 279.3,508.2 278.8,509.6 277.2,510.3 275.9,510.6 274.2,511.6 273.1,512.3 271.3,512.6 270.2,513.4 268.9,513.6 268.1,515.2 267.3,514.3 265.6,514.4 263.6,515.2 262.3,515.2 260.1,515.8 259.0,516.9 257.4,516.7 255.7,516.5 253.7,516.3 252.4,515.7 251.4,514.1 249.9,513.6 248.5,514.3 246.6,515.2 245.1,515.1 243.7,514.8 242.4,512.8 243.0,511.4 243.3,509.4 243.6,508.0 244.3,506.9 245.3,506.1 246.3,504.9 246.6,502.8 246.1,501.6 246.3,500.5 245.7,498.7 245.2,497.5 244.1,496.2 244.6,494.3 244.5,492.9 244.2,490.8 243.7,489.2 242.9,487.8 242.3,486.1 241.6,485.4 240.1,484.6 239.3,484.0 237.5,482.9 235.7,482.0 235.0,480.8 233.3,480.5 232.6,479.1 231.3,478.9 230.0,478.0 229.2,478.0 230.1,478.7 231.4,480.3 231.7,481.3 232.2,483.0 232.1,484.1 232.9,485.0 232.0,483.3 231.7,482.1 229.6,482.9 228.2,483.6 227.1,483.8 226.8,485.4 225.5,486.7 223.0,487.1 222.2,488.1 221.8,490.0 222.1,490.9 222.9,492.5 223.4,493.7 222.8,495.0 223.0,497.0 222.2,496.8 220.5,496.2 219.0,495.6 218.4,494.1 216.8,494.5 215.9,495.7 215.1,497.0 213.1,496.6 212.2,496.4 210.6,495.8 208.9,495.0 207.3,494.5 206.1,493.7 204.8,492.1 204.0,490.5 202.3,489.7 201.9,488.7 200.8,487.9 200.3,486.1 199.4,485.4 198.5,484.3 197.7,482.9 198.1,481.0 198.6,479.6 198.9,477.9 198.8,476.7 197.3,474.2 196.0,474.8 195.6,476.0 194.0,477.1 192.4,475.9 192.0,474.8 191.9,473.1 192.4,471.4 191.9,469.6 191.6,468.3 191.5,467.2 192.0,466.2 192.0,464.1 192.4,463.1 192.4,464.4 193.1,463.2 193.6,461.1 194.7,459.8 194.8,457.8 194.8,455.8 195.7,454.5 195.5,453.3 194.8,451.2 193.5,450.2 192.4,449.1 190.4,448.8 190.1,448.4 188.2,447.9 186.8,447.3 185.3,446.8 184.5,446.2 183.3,445.2 181.2,445.0 180.6,443.9 179.5,442.1 179.0,440.3 178.0,438.8 177.4,437.1 177.9,435.9 177.3,434.6 176.9,433.1 177.1,430.9"/>
<polygon fill="#dc143c" stroke="#000" stroke-width="0.8" stroke-linejoin="round" points="284.8,453.5 288.0,455.3 289.6,456.0 289.9,457.0 291.3,458.2 291.9,459.2 292.7,461.0 293.8,462.0 294.1,463.4 294.8,464.4 295.0,466.1 294.7,468.1 295.1,469.0 295.4,471.1 295.2,473.1 295.3,473.9 294.6,476.0 294.7,477.5 295.4,479.4 295.8,479.2 295.0,480.6 295.0,481.7 294.1,483.4 293.4,484.2 292.2,485.5 290.9,486.7 291.7,487.9 292.6,488.9 292.5,490.4 291.3,492.1 290.4,491.3 288.8,490.8 288.0,492.9 287.3,495.1 286.3,496.2 286.0,498.0 285.1,499.5 285.0,500.2 284.2,502.4 283.8,503.2 282.7,503.4 280.9,503.6 281.8,505.3 280.8,506.4 280.5,507.8 279.3,508.2 278.8,509.6 277.2,510.3 275.9,510.6 274.2,511.6 273.1,512.3 271.3,512.6 270.2,513.4 268.9,513.6 268.1,515.2 267.3,514.3 265.6,514.4 263.6,515.2 262.3,515.2 260.1,515.8 259.0,516.9 257.4,516.7 255.7,516.5 253.7,516.3 252.4,515.7 251.4,514.1 249.9,513.6 248.5,514.3 246.6,515.2 245.1,515.1 243.7,514.8 242.4,512.8 243.0,511.4 243.3,509.4 243.6,508.0 244.3,506.9 245.3,506.1 246.3,504.9 246.6,502.8 246.1,501.6 246.3,500.5 245.7,498.7 245.2,497.5 244.1,496.2 244.6,494.3 244.5,492.9 244.2,490.8 243.7,489.2 242.9,487.8 242.3,486.1 241.6,485.4 240.1,484.6 239.3,484.0 237.5,482.9 235.7,482.0 235.0,480.8 233.3,480.5 232.6,479.1 231.3,478.9 230.0,478.0 229.2,478.0 230.1,478.7 231.4,480.3 231.7,481.3 232.2,483.0 232.1,484.1 232.9,485.0 232.0,483.3 231.7,482.1 229.6,482.9 228.2,483.6 227.1,483.8 226.8,485.4 225.5,486.7 223.0,487.1 222.2,488.1 221.8,490.0 222.1,490.9 222.9,492.5 223.4,493.7 222.8,495.0 223.0,497.0 222.2,496.8 220.5,496.2 219.0,495.6 218.4,494.1 216.8,494.5 215.9,495.7 215.1,497.0 213.1,496.6 212.2,496.4 210.6,495.8 208.9,495.0 207.3,494.5 206.1,493.7 204.8,492.1 204.0,490.5 202.3,489.7 201.9,488.7 200.8,487.9 200.3,486.1 199.4,485.4 198.5,484.3 197.7,482.9 198.1,481.0 198.6,479.6 198.9,477.9 198.8,476.7"/>
<polyline fill="none" stroke="#000" stroke-width="1.9" stroke-linejoin="miter" stroke-linecap="round" points="229.2,478.0 230.1,478.7 231.4,480.3 231.7,481.3 232.2,483.0 232.1,484.1 232.9,485.0 232.0,483.3 231.7,482.1 229.6,482.9 228.2,483.6 227.1,483.8 226.8,485.4 225.5,486.7 223.0,487.1 222.2,488.1 221.8,490.0 222.1,490.9 222.9,492.5 223.4,493.7 222.8,495.0 223.0,497.0 222.2,496.8 220.5,496.2 219.0,495.6 218.4,494.1 216.8,494.5 215.9,495.7 215.1,497.0 213.1,496.6 212.2,496.4 210.6,495.8 208.9,495.0 207.3,494.5 206.1,493.7 204.8,492.1 204.0,490.5 202.3,489.7 201.9,488.7 200.8,487.9 200.3,486.1 199.4,485.4 198.5,484.3 197.7,482.9 198.1,481.0 198.6,479.6 198.9,477.9 198.8,476.7 197.3,474.2 196.0,474.8 195.6,476.0 194.0,477.1 192.4,475.9 192.0,474.8 191.9,473.1 192.4,471.4 191.9,469.6 191.6,468.3 191.5,467.2 192.0,466.2 192.0,464.1 192.4,463.1 192.4,464.4 193.1,463.2 193.6,461.1 194.7,459.8 194.8,457.8 194.8,455.8 195.7,454.5 195.5,453.3 194.8,451.2 193.5,450.2 192.4,449.1 190.4,448.8 190.1,448.4 188.2,447.9 186.8,447.3 185.3,446.8 184.5,446.2 183.3,445.2 181.2,445.0 180.6,443.9 179.5,442.1 179.0,440.3 178.0,438.8 177.4,437.1 177.9,435.9 177.3,434.6 176.9,433.1 177.1,430.9 177.7,430.1 178.5,431.7 178.9,432.8 178.9,434.6 179.2,435.7 180.4,437.1 182.4,437.9 183.1,439.4 183.3,441.3 184.5,442.4 184.9,443.3 186.6,443.7 188.2,443.9 190.0,444.3 191.5,444.6 193.3,445.2 194.3,444.9 195.7,445.8 197.0,446.2 199.0,447.5 200.4,449.0 201.1,449.5 201.7,451.5 202.7,452.9 202.6,454.9 203.5,456.2 203.1,458.6 203.9,460.0 205.6,460.7 206.2,462.4 206.4,463.2 208.0,462.5 208.9,462.0 211.4,461.5 212.2,460.2 213.9,459.5 215.9,459.0 217.2,458.2 219.7,458.6 219.6,457.6 220.1,455.3 220.9,454.5 221.8,453.7 221.8,452.0 222.0,451.0 222.3,448.9 223.0,447.9 223.9,446.2 224.2,445.0 221.9,445.0 220.5,444.2 219.3,443.6 218.0,442.5 218.2,440.8 217.6,438.8 217.9,437.3 219.4,436.6 219.7,435.5 220.5,434.6 222.3,432.9 223.0,432.1 223.5,431.3 223.4,429.7 224.2,428.0 224.6,426.6 224.6,424.7 225.5,423.0 226.0,421.5 227.5,420.3 228.0,419.7 229.2,419.7 230.9,419.4 232.9,418.5 234.5,418.5 236.4,418.0 237.9,418.1 239.1,417.8 240.2,417.8 242.1,417.3 242.7,417.5 244.5,417.7 246.6,418.5 248.4,418.8 249.6,419.9 250.7,420.6 252.6,421.3 253.4,421.5 254.8,422.6 256.1,423.4 258.1,422.9 259.0,423.5 260.7,422.9 261.8,422.8"/>
<polyline fill="none" stroke="#000" stroke-width="1.3" stroke-linejoin="miter" stroke-linecap="round" points="261.8,422.8 263.1,422.6 264.1,422.1 265.6,421.8 266.1,423.4 266.0,424.7 266.5,425.7 267.3,427.6 268.0,427.4 269.8,426.4 271.4,426.5 273.1,426.8 274.4,426.9 275.5,428.4 277.2,428.4 278.5,428.7 280.4,429.1 281.3,429.2 282.7,429.2 284.7,430.1 285.1,430.9 286.3,432.6 285.5,433.6 285.5,435.5 285.7,437.1 286.3,438.8 286.6,440.3 287.1,442.1 287.6,443.4 288.0,445.4 288.4,447.5 286.3,448.7 285.2,448.7 283.1,449.1 281.3,449.5 279.7,449.3 278.6,450.5 276.4,450.4 273.9,450.8 274.8,450.8 277.1,451.6 278.0,451.6 279.8,452.2 280.9,452.4 283.0,452.4 284.8,453.5 288.0,455.3 289.6,456.0 289.9,457.0 291.3,458.2 291.9,459.2 292.7,461.0 293.8,462.0 294.1,463.4 294.8,464.4 295.0,466.1 294.7,468.1 295.1,469.0 295.4,471.1 295.2,473.1 295.3,473.9 294.6,476.0 294.7,477.5 295.4,479.4 295.8,479.2 295.0,480.6 295.0,481.7 294.1,483.4 293.4,484.2 292.2,485.5 290.9,486.7 291.7,487.9 292.6,488.9 292.5,490.4 291.3,492.1 290.4,491.3 288.8,490.8 288.0,492.9 287.3,495.1 286.3,496.2 286.0,498.0 285.1,499.5 285.0,500.2 284.2,502.4 283.8,503.2 282.7,503.4 280.9,503.6 281.8,505.3 280.8,506.4 280.5,507.8 279.3,508.2 278.8,509.6 277.2,510.3 275.9,510.6 274.2,511.6 273.1,512.3 271.3,512.6 270.2,513.4 268.9,513.6 268.1,515.2 267.3,514.3 265.6,514.4 263.6,515.2 262.3,515.2 260.1,515.8 259.0,516.9 257.4,516.7 255.7,516.5 253.7,516.3 252.4,515.7 251.4,514.1 249.9,513.6 248.5,514.3 246.6,515.2 245.1,515.1 243.7,514.8 242.4,512.8 243.0,511.4 243.3,509.4 243.6,508.0 244.3,506.9 245.3,506.1 246.3,504.9 246.6,502.8 246.1,501.6 246.3,500.5 245.7,498.7 245.2,497.5 244.1,496.2 244.6,494.3 244.5,492.9 244.2,490.8 243.7,489.2 242.9,487.8 242.3,486.1 241.6,485.4 240.1,484.6 239.3,484.0 237.5,482.9 235.7,482.0 235.0,480.8 233.3,480.5 232.6,479.1 231.3,478.9 230.0,478.0"/>
<polyline fill="none" stroke="#000" stroke-width="3.0" stroke-linejoin="miter" stroke-miterlimit="3" points="194.7,708.3 195.5,723.8 196.0,735.8 198.0,731.3 199.0,736.8 201.0,727.6 203.0,725.1 204.7,720.8 206.5,727.6 209.0,732.6 210.5,738.8 212.2,743.3 213.5,733.8 214.7,718.8 216.0,706.3 217.2,698.8 218.0,683.9 219.0,670.1 220.2,663.9 221.0,646.4 222.2,630.2 223.5,625.2 225.2,624.4 227.2,631.4 229.0,641.4 230.5,653.9 231.7,663.9 233.5,657.6 235.5,648.9 236.7,642.6 237.7,621.4 238.4,606.4 240.4,590.2 242.2,582.7 243.9,582.0 245.9,591.4 247.9,601.4 249.7,613.9 250.9,621.4 252.9,622.7 253.9,613.9 255.4,598.9 256.7,584.0 257.9,560.2 259.7,566.5 262.0,564.9 263.7,579.9 265.5,587.3 267.5,588.6 269.5,577.4 271.2,567.4 273.0,559.9 274.5,554.9 276.2,567.4 278.0,552.4 279.5,553.6 281.2,567.4 283.0,574.9 285.0,576.1 286.2,572.4 288.0,554.9 289.5,537.4 290.5,526.2 292.5,527.4 294.5,523.7 296.2,518.7 298.0,509.9 299.5,516.2 301.2,519.9 303.0,528.7 304.5,532.4 306.2,526.2 308.0,517.4 309.5,507.4 311.2,499.9 312.9,496.2 314.9,503.7 316.2,509.9 317.9,503.7 319.4,511.2 321.2,516.2 323.7,521.2 325.4,512.4 327.4,506.2 328.7,497.4 329.9,488.7 331.9,486.2 333.7,477.0 335.4,482.4 336.9,491.2 338.7,498.7 340.4,501.2 341.9,504.9 343.7,514.9 344.9,522.4 346.2,504.9 347.4,499.9 349.4,503.7 351.2,507.4 352.4,506.2 353.7,517.4 354.9,529.9 356.2,542.4 357.9,553.6 359.4,556.1 360.6,547.4 361.9,539.9 363.6,539.9 364.9,547.4 366.1,529.9 367.4,517.4 368.6,514.9 370.4,521.2 371.9,532.4 373.1,544.9 374.4,557.4 375.6,567.4 377.4,572.4 379.4,574.9 381.1,579.9 382.4,582.3 383.6,574.9 386.1,577.4 387.9,579.9 389.4,588.6 391.1,579.9 392.4,582.3 394.4,586.1 396.1,590.3 397.9,586.1 399.9,589.8 401.1,582.3 402.9,579.9 404.4,574.9 406.1,589.8 407.9,597.3 409.4,602.3 410.6,606.1 412.3,601.1 414.3,587.3 416.1,574.9 417.8,568.6 419.8,563.6 421.8,559.9 423.6,558.6 425.3,566.1 426.8,577.4 428.6,587.3 430.3,582.3 431.8,579.9 433.1,566.1 434.8,549.9 436.8,532.4 438.1,518.7 439.3,507.4 441.1,508.7 442.8,511.2 444.3,509.9 445.3,517.4 446.8,504.9 448.6,494.9 450.3,492.4 451.8,496.2 453.6,489.9 454.8,472.5 456.1,467.0 457.8,465.5 459.8,467.0 461.0,477.5 462.8,478.7 464.3,487.4 465.5,499.9 467.3,497.4 469.3,504.9 471.0,494.9 472.8,489.9 474.3,498.7 476.0,493.7 477.3,487.4 479.3,496.2 481.0,504.9 482.3,517.4 484.0,522.4 486.0,519.9 487.8,514.9 489.3,516.2 491.0,499.9 492.8,484.9 494.3,476.2 496.0,489.9 497.8,502.4 499.8,514.9 501.0,524.9 502.5,524.9 504.0,509.9 505.0,497.4 506.5,498.7 507.5,487.4 509.0,475.0 510.0,470.0 511.5,476.2 513.2,487.4 515.0,497.4 516.5,509.9 518.2,518.7 520.0,522.4 521.5,517.4 523.2,518.7 525.0,513.7 527.0,509.9 528.2,499.9 529.5,502.4 530.7,496.2 532.5,501.2 534.0,507.4 535.7,514.9 537.0,523.7 539.0,521.2 540.0,524.9 541.5,519.9 542.7,504.9 543.7,489.9 544.9,487.4 546.9,481.2 548.2,489.9 549.4,501.2 550.7,503.7 553.2,506.2 554.4,522.4 555.7,529.9 557.4,536.1 559.4,539.9 561.4,541.1 563.2,544.9 564.9,546.1 566.4,552.4 567.7,539.9 568.9,539.9 570.7,546.1 571.9,554.9 573.2,564.9 574.4,569.9 576.4,568.6 578.2,573.6 579.4,576.1 581.4,571.1 582.4,562.4 583.9,547.4 584.9,539.9 586.4,538.6 588.2,542.4 589.4,562.4 590.7,559.9 591.9,554.9 593.9,542.4 595.6,532.4 597.4,522.4 598.9,512.4 600.1,507.4 601.9,516.2 603.9,527.4 605.6,529.9 607.4,526.2 609.4,523.7 610.6,509.9 611.9,498.7 613.1,496.2 614.4,489.9 615.6,480.0 616.9,475.5 618.9,476.2 620.6,474.5 622.4,473.7 624.4,480.0 626.4,486.2 628.1,492.4 629.9,488.7 631.4,476.2 633.1,474.5 634.9,482.4 636.4,484.9 638.1,480.0 639.9,483.7 641.4,494.9 643.1,507.4 644.8,516.2 646.3,518.7 648.1,509.9 649.8,502.4 651.3,494.9 652.3,483.7 653.8,481.2 655.1,467.5 656.1,463.7 657.6,473.7 659.3,482.4 661.3,489.9 663.1,498.7 664.3,507.4 666.3,509.9 668.1,508.7 669.3,499.9 670.6,489.9 672.3,483.7 673.8,475.0 674.8,457.5 676.1,448.7 677.3,448.0 679.3,455.0 680.6,462.5 682.3,470.0 684.3,473.7 686.3,472.5 688.1,475.0 689.8,467.5 691.8,470.0 693.8,473.7 695.5,475.0 697.3,483.7 698.8,491.2 700.5,497.4 701.8,492.4 703.8,482.4 705.5,472.5 707.3,462.5 708.8,461.2 710.5,467.5 712.3,477.5 713.8,489.9 715.5,499.9 717.3,507.4 718.8,514.9 720.5,513.7 722.3,512.4 724.3,518.7 726.3,513.7 727.3,503.7 728.8,504.9 730.5,509.9 732.3,511.2 734.7,532.4 736.5,528.7 739.0,528.7 741.5,528.7 742.7,512.5 744.0,498.7 746.0,497.5 747.0,495.0 748.5,503.7 750.2,505.0 751.5,515.0 752.7,522.5 754.0,528.7 755.9,532.4 757.7,544.9 759.4,554.9 761.4,562.4 763.4,559.9 765.2,562.4 766.4,572.4 767.7,582.4 769.4,584.9 770.9,593.6 772.2,602.4 774.4,602.4 775.9,599.9 777.2,607.4 778.4,612.4 779.4,594.9 780.7,579.9 781.9,570.4 783.9,571.2 785.2,578.7 786.4,588.6 788.4,591.1 790.2,594.9 792.7,596.1 793.9,589.9 795.2,578.7 796.4,570.4 798.9,569.9 800.9,576.2 802.7,584.9 804.4,597.4 805.9,603.6 807.6,599.9 809.4,597.4 811.4,602.4 813.1,601.1 814.4,607.4 815.9,611.1 817.6,613.6 818.9,603.6 820.1,614.9 821.4,623.6 823.4,626.1 825.1,629.4 826.9,629.9 828.9,627.4 830.9,624.9 832.6,629.9 833.9,632.3 835.1,629.9 836.9,631.1 838.4,633.6 840.1,652.3 841.4,662.3 842.6,668.6 844.4,669.8 845.9,666.1 846.9,668.6 848.4,654.8 849.4,652.3 850.9,656.1 852.6,653.6 853.9,642.3 855.1,632.3 856.3,647.3 858.3,657.3 860.1,663.6 861.8,671.1 863.3,677.3 865.1,679.8 866.8,666.1 868.3,657.3 870.1,649.8 871.8,642.3 873.3,644.8 875.1,654.8 876.8,664.8 878.8,668.6 880.1,663.6 881.8,662.3 883.3,652.3 884.3,644.8 885.8,648.6 887.6,642.3 889.3,640.3 891.3,642.3 893.3,649.8 894.6,659.8 895.3,672.3 895.8,681.0"/>
<polyline fill="none" stroke="#ff0000" stroke-width="3.0" stroke-linejoin="miter" stroke-miterlimit="3" points="194.7,650.1 196.5,655.1 198.5,662.6 200.5,663.9 202.2,660.1 203.5,662.6 204.7,657.6 206.5,665.1 208.5,666.4 210.2,669.6 212.2,663.9 214.0,653.9 215.5,647.6 217.2,641.4 218.5,628.9 219.7,616.4 221.0,602.7 223.0,597.7 224.7,595.2 226.0,600.2 228.0,593.9 230.5,595.2 232.2,593.9 234.0,597.7 235.5,601.4 237.2,593.9 238.9,584.0 240.4,577.7 242.2,576.5 243.9,573.5 245.9,574.0 248.4,574.5 250.9,574.0 252.9,578.5 255.4,576.5 256.7,569.0 257.9,561.5 259.2,574.0 260.4,581.5 262.0,586.1 263.7,589.8 265.5,584.8 267.5,577.4 269.5,573.6 271.2,582.3 273.0,579.9 274.5,584.8 276.2,594.8 278.0,599.8 280.0,603.6 282.0,597.3 283.7,591.1 285.5,582.3 287.0,577.4 288.7,579.9 290.5,572.4 292.5,577.4 294.5,584.8 296.2,581.1 297.5,586.1 299.5,581.1 301.2,582.3 303.0,578.6 305.0,572.4 307.0,567.4 308.7,564.9 310.4,574.9 311.9,571.1 312.9,577.4 314.4,584.8 316.2,591.1 317.9,587.3 319.9,579.9 321.9,569.9 323.7,566.1 325.4,564.9 327.4,557.4 329.4,547.4 331.2,539.9 332.9,546.1 334.9,542.4 336.9,537.4 338.7,532.4 340.4,533.6 342.4,532.4 344.4,537.4 346.2,528.7 347.4,524.9 348.7,534.9 350.4,539.9 352.4,542.4 354.4,547.4 356.2,539.9 357.9,546.1 359.9,549.4 361.9,549.9 363.6,551.1 365.4,554.9 367.4,551.1 369.4,552.4 371.1,549.9 372.9,553.6 374.9,549.9 376.9,548.6 379.4,549.9 380.4,557.4 382.4,564.9 384.4,569.9 386.1,573.6 387.9,574.9 389.4,573.6 391.1,564.9 392.9,556.1 394.4,562.4 396.1,557.4 397.9,552.4 399.4,553.6 401.1,547.4 402.9,541.1 404.9,542.4 406.9,539.9 408.6,534.9 410.3,529.9 412.3,524.9 414.3,517.4 416.1,511.2 417.8,504.9 419.8,498.7 421.8,502.4 423.6,504.9 425.3,511.2 427.3,507.4 429.3,499.9 431.1,494.9 432.8,492.4 434.8,488.7 436.8,483.7 438.6,472.5 439.8,471.2 441.8,480.0 443.6,486.2 445.3,493.7 447.3,489.9 449.3,487.4 451.1,492.4 452.8,496.2 454.8,494.9 456.8,493.7 458.6,497.4 460.3,498.7 461.8,493.7 463.5,489.9 465.3,484.9 467.3,489.9 469.3,494.9 471.0,497.4 472.8,488.7 474.3,486.2 476.0,492.4 477.8,482.4 479.3,481.2 481.0,486.2 482.8,491.2 484.8,493.7 486.8,489.9 488.5,491.2 490.3,483.7 491.8,471.2 493.5,467.5 494.8,466.2 496.0,477.5 497.8,481.2 499.8,482.4 503.2,477.5 505.0,470.0 507.0,471.2 509.0,463.7 510.7,461.2 512.5,462.5 514.0,472.5 515.7,476.2 517.5,470.0 520.0,465.0 521.5,471.2 523.2,470.0 524.5,478.7 526.5,482.4 528.2,478.7 530.0,476.2 532.0,478.7 534.0,476.2 536.5,476.2 538.2,483.7 540.0,489.9 541.5,502.4 543.2,513.7 544.9,509.9 546.9,507.4 548.9,511.2 550.7,512.4 552.4,507.4 554.4,511.2 556.4,509.9 558.2,522.4 559.9,532.4 561.9,539.9 563.9,544.9 565.7,544.9 567.4,553.6 569.4,559.9 571.4,562.4 573.2,567.4 574.9,572.4 576.9,579.9 578.9,584.8 580.7,591.1 581.9,592.3 583.2,582.3 584.4,578.6 586.4,577.4 588.2,574.9 589.9,564.9 591.4,562.4 593.1,554.9 594.9,546.1 596.4,547.4 598.1,541.1 599.9,537.4 601.4,544.9 603.1,559.9 604.4,568.6 606.4,566.1 608.1,554.9 609.4,558.6 611.4,549.9 613.1,551.1 614.9,543.6 616.4,539.9 618.1,543.6 619.9,547.4 621.9,546.1 623.9,543.6 625.6,542.4 626.9,538.6 628.1,534.9 629.9,539.9 631.9,542.4 633.9,544.9 635.6,542.4 637.4,544.9 639.4,546.1 641.4,546.1 643.1,542.4 644.8,538.6 646.3,544.9 648.1,539.9 649.8,538.6 651.3,546.1 653.1,543.6 654.3,539.9 656.3,541.1 658.1,546.1 659.3,552.4 661.3,547.4 663.1,543.6 664.8,548.6 666.8,552.4 668.8,549.9 670.6,546.1 672.3,543.6 674.3,542.4 676.3,547.4 678.1,551.1 679.3,546.1 681.3,552.4 683.1,559.9 684.8,554.9 686.3,564.9 687.6,574.9 688.8,578.6 690.6,574.9 691.8,572.4 693.8,581.1 695.5,577.4 697.3,574.9 699.3,569.9 701.3,559.9 703.0,549.9 704.8,546.1 706.3,537.4 708.0,533.6 709.3,533.6 710.5,542.4 712.3,543.6 714.3,546.1 716.3,547.4 718.0,551.1 719.8,549.9 721.3,546.1 723.0,552.4 724.8,556.1 726.8,557.4 728.0,567.4 729.3,572.4 731.3,571.1 734.0,572.4 736.0,561.2 737.7,562.4 740.2,563.7 742.0,552.4 743.5,538.7 745.2,536.2 747.0,533.7 749.0,531.2 751.0,528.7 752.7,525.0 754.0,521.2 755.9,520.0 757.7,525.0 759.4,531.2 761.4,542.4 763.4,546.2 765.2,554.9 766.4,562.4 767.7,567.4 769.4,554.9 770.9,553.7 772.7,556.2 774.4,548.7 776.4,552.4 777.7,556.2 778.9,551.2 780.9,546.9 783.4,547.9 785.2,552.4 786.9,553.7 788.9,551.2 790.9,553.7 792.7,554.9 794.4,556.2 795.9,546.2 797.7,547.4 798.9,543.7 800.9,551.2 802.7,548.7 804.4,546.2 806.4,542.4 808.4,546.2 809.4,553.7 811.4,564.9 813.4,563.7 815.1,562.4 816.9,562.4 818.4,556.2 820.1,559.9 821.4,561.2 823.4,552.4 825.1,544.9 826.4,542.4 828.4,546.2 830.1,552.4 831.9,559.9 833.9,568.7 835.9,573.7 837.6,579.9 838.9,583.6 840.9,579.9 842.6,576.2 844.4,574.9 845.9,581.1 847.6,586.1 849.4,581.1 851.4,576.2 853.4,569.9 854.6,567.4 855.8,574.9 857.6,584.9 860.1,587.4 861.8,593.6 863.8,601.1 865.8,609.9 866.8,619.9 868.3,627.4 869.3,632.3 870.8,629.9 871.8,639.8 873.3,649.8 875.1,658.6 876.3,654.8 878.3,647.3 880.1,641.1 881.3,652.3 883.3,653.6 885.1,654.8 886.8,656.1 888.8,654.8 890.8,654.3 892.6,658.6 893.8,663.6 895.8,665.3"/>
<rect x="456.5" y="641.7" width="177.5" height="97" fill="#fff" stroke="#000" stroke-width="2.5"/>
<line x1="475.2" y1="670.7" x2="506.1" y2="670.7" stroke="#000" stroke-width="5.5"/>
<line x1="475.2" y1="709.1" x2="506.1" y2="709.1" stroke="#ff0000" stroke-width="5.5"/>
<text x="518.0" y="680.1" font-size="32">ΔSMB</text>
<text x="518.0" y="719.5" font-size="32">REOF1</text>
<text x="887.2" y="727" font-size="43">b</text>
<g stroke="#000" stroke-width="1.5"><line x1="157.9" y1="398.0" x2="157.9" y2="392.0"/><line x1="157.9" y1="746.3" x2="157.9" y2="752.3"/><line x1="175.9" y1="398.0" x2="175.9" y2="392.0"/><line x1="175.9" y1="746.3" x2="175.9" y2="752.3"/><line x1="193.9" y1="398.0" x2="193.9" y2="392.0"/><line x1="193.9" y1="746.3" x2="193.9" y2="752.3"/><line x1="211.9" y1="398.0" x2="211.9" y2="386.0"/><line x1="211.9" y1="746.3" x2="211.9" y2="758.0"/><line x1="229.9" y1="398.0" x2="229.9" y2="392.0"/><line x1="229.9" y1="746.3" x2="229.9" y2="752.3"/><line x1="247.9" y1="398.0" x2="247.9" y2="392.0"/><line x1="247.9" y1="746.3" x2="247.9" y2="752.3"/><line x1="266.0" y1="398.0" x2="266.0" y2="392.0"/><line x1="266.0" y1="746.3" x2="266.0" y2="752.3"/><line x1="284.0" y1="398.0" x2="284.0" y2="392.0"/><line x1="284.0" y1="746.3" x2="284.0" y2="752.3"/><line x1="302.0" y1="398.0" x2="302.0" y2="388.5"/><line x1="302.0" y1="746.3" x2="302.0" y2="755.8"/><line x1="320.0" y1="398.0" x2="320.0" y2="392.0"/><line x1="320.0" y1="746.3" x2="320.0" y2="752.3"/><line x1="338.0" y1="398.0" x2="338.0" y2="392.0"/><line x1="338.0" y1="746.3" x2="338.0" y2="752.3"/><line x1="356.0" y1="398.0" x2="356.0" y2="392.0"/><line x1="356.0" y1="746.3" x2="356.0" y2="752.3"/><line x1="374.0" y1="398.0" x2="374.0" y2="392.0"/><line x1="374.0" y1="746.3" x2="374.0" y2="752.3"/><line x1="392.0" y1="398.0" x2="392.0" y2="386.0"/><line x1="392.0" y1="746.3" x2="392.0" y2="758.0"/><line x1="410.0" y1="398.0" x2="410.0" y2="392.0"/><line x1="410.0" y1="746.3" x2="410.0" y2="752.3"/><line x1="428.0" y1="398.0" x2="428.0" y2="392.0"/><line x1="428.0" y1="746.3" x2="428.0" y2="752.3"/><line x1="446.0" y1="398.0" x2="446.0" y2="392.0"/><line x1="446.0" y1="746.3" x2="446.0" y2="752.3"/><line x1="464.1" y1="398.0" x2="464.1" y2="392.0"/><line x1="464.1" y1="746.3" x2="464.1" y2="752.3"/><line x1="482.1" y1="398.0" x2="482.1" y2="388.5"/><line x1="482.1" y1="746.3" x2="482.1" y2="755.8"/><line x1="500.1" y1="398.0" x2="500.1" y2="392.0"/><line x1="500.1" y1="746.3" x2="500.1" y2="752.3"/><line x1="518.1" y1="398.0" x2="518.1" y2="392.0"/><line x1="518.1" y1="746.3" x2="518.1" y2="752.3"/><line x1="536.1" y1="398.0" x2="536.1" y2="392.0"/><line x1="536.1" y1="746.3" x2="536.1" y2="752.3"/><line x1="554.1" y1="398.0" x2="554.1" y2="392.0"/><line x1="554.1" y1="746.3" x2="554.1" y2="752.3"/><line x1="572.1" y1="398.0" x2="572.1" y2="386.0"/><line x1="572.1" y1="746.3" x2="572.1" y2="758.0"/><line x1="590.1" y1="398.0" x2="590.1" y2="392.0"/><line x1="590.1" y1="746.3" x2="590.1" y2="752.3"/><line x1="608.1" y1="398.0" x2="608.1" y2="392.0"/><line x1="608.1" y1="746.3" x2="608.1" y2="752.3"/><line x1="626.1" y1="398.0" x2="626.1" y2="392.0"/><line x1="626.1" y1="746.3" x2="626.1" y2="752.3"/><line x1="644.2" y1="398.0" x2="644.2" y2="392.0"/><line x1="644.2" y1="746.3" x2="644.2" y2="752.3"/><line x1="662.2" y1="398.0" x2="662.2" y2="388.5"/><line x1="662.2" y1="746.3" x2="662.2" y2="755.8"/><line x1="680.2" y1="398.0" x2="680.2" y2="392.0"/><line x1="680.2" y1="746.3" x2="680.2" y2="752.3"/><line x1="698.2" y1="398.0" x2="698.2" y2="392.0"/><line x1="698.2" y1="746.3" x2="698.2" y2="752.3"/><line x1="716.2" y1="398.0" x2="716.2" y2="392.0"/><line x1="716.2" y1="746.3" x2="716.2" y2="752.3"/><line x1="734.2" y1="398.0" x2="734.2" y2="392.0"/><line x1="734.2" y1="746.3" x2="734.2" y2="752.3"/><line x1="752.2" y1="398.0" x2="752.2" y2="386.0"/><line x1="752.2" y1="746.3" x2="752.2" y2="758.0"/><line x1="770.2" y1="398.0" x2="770.2" y2="392.0"/><line x1="770.2" y1="746.3" x2="770.2" y2="752.3"/><line x1="788.2" y1="398.0" x2="788.2" y2="392.0"/><line x1="788.2" y1="746.3" x2="788.2" y2="752.3"/><line x1="806.2" y1="398.0" x2="806.2" y2="392.0"/><line x1="806.2" y1="746.3" x2="806.2" y2="752.3"/><line x1="824.2" y1="398.0" x2="824.2" y2="392.0"/><line x1="824.2" y1="746.3" x2="824.2" y2="752.3"/><line x1="842.3" y1="398.0" x2="842.3" y2="388.5"/><line x1="842.3" y1="746.3" x2="842.3" y2="755.8"/><line x1="860.3" y1="398.0" x2="860.3" y2="392.0"/><line x1="860.3" y1="746.3" x2="860.3" y2="752.3"/><line x1="878.3" y1="398.0" x2="878.3" y2="392.0"/><line x1="878.3" y1="746.3" x2="878.3" y2="752.3"/><line x1="896.3" y1="398.0" x2="896.3" y2="392.0"/><line x1="896.3" y1="746.3" x2="896.3" y2="752.3"/><line x1="914.3" y1="398.0" x2="914.3" y2="392.0"/><line x1="914.3" y1="746.3" x2="914.3" y2="752.3"/><line x1="932.3" y1="398.0" x2="932.3" y2="386.0"/><line x1="932.3" y1="746.3" x2="932.3" y2="758.0"/><line x1="157.9" y1="726.9" x2="145.9" y2="726.9"/><line x1="932.3" y1="726.9" x2="944.3" y2="726.9"/><line x1="157.9" y1="697.9" x2="151.4" y2="697.9"/><line x1="932.3" y1="697.9" x2="938.8" y2="697.9"/><line x1="157.9" y1="668.9" x2="145.9" y2="668.9"/><line x1="932.3" y1="668.9" x2="944.3" y2="668.9"/><line x1="157.9" y1="639.9" x2="151.4" y2="639.9"/><line x1="932.3" y1="639.9" x2="938.8" y2="639.9"/><line x1="157.9" y1="610.8" x2="145.9" y2="610.8"/><line x1="932.3" y1="610.8" x2="944.3" y2="610.8"/><line x1="157.9" y1="581.8" x2="151.4" y2="581.8"/><line x1="932.3" y1="581.8" x2="938.8" y2="581.8"/><line x1="157.9" y1="552.8" x2="145.9" y2="552.8"/><line x1="932.3" y1="552.8" x2="944.3" y2="552.8"/><line x1="157.9" y1="523.8" x2="151.4" y2="523.8"/><line x1="932.3" y1="523.8" x2="938.8" y2="523.8"/><line x1="157.9" y1="494.8" x2="145.9" y2="494.8"/><line x1="932.3" y1="494.8" x2="944.3" y2="494.8"/><line x1="157.9" y1="465.7" x2="151.4" y2="465.7"/><line x1="932.3" y1="465.7" x2="938.8" y2="465.7"/><line x1="157.9" y1="436.7" x2="145.9" y2="436.7"/><line x1="932.3" y1="436.7" x2="944.3" y2="436.7"/><line x1="157.9" y1="407.7" x2="151.4" y2="407.7"/><line x1="932.3" y1="407.7" x2="938.8" y2="407.7"/></g>
<rect x="157.9" y="398.0" width="774.4" height="348.3" fill="none" stroke="#000" stroke-width="3.8"/>
<text x="133.0" y="738.2" text-anchor="end" font-size="32.5">−450</text><text x="133.0" y="680.2" text-anchor="end" font-size="32.5">−300</text><text x="133.0" y="622.1" text-anchor="end" font-size="32.5">−150</text><text x="133.0" y="564.1" text-anchor="end" font-size="32.5">0</text><text x="133.0" y="506.1" text-anchor="end" font-size="32.5">150</text><text x="133.0" y="448.0" text-anchor="end" font-size="32.5">300</text>
<text x="211.9" y="794.3" text-anchor="middle" font-size="32.5">1980</text>
<text x="392.0" y="794.3" text-anchor="middle" font-size="32.5">1990</text>
<text x="572.1" y="794.3" text-anchor="middle" font-size="32.5">2000</text>
<text x="752.2" y="794.3" text-anchor="middle" font-size="32.5">2010</text>
<text x="932.3" y="794.3" text-anchor="middle" font-size="32.5">2020</text>
<text x="545.5" y="846.4" text-anchor="middle" font-size="43.5">Year</text>
<text transform="translate(37.2,399.5) rotate(-90)" text-anchor="middle" font-size="43.5">Gton</text>
</svg></body></html>
